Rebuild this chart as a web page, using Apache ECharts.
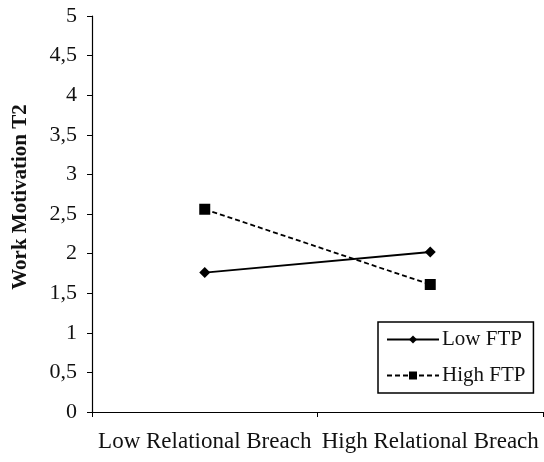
<!DOCTYPE html>
<html>
<head>
<meta charset="utf-8">
<script src="https://cdn.jsdelivr.net/npm/echarts@6/dist/echarts.min.js"></script>
<style>
  html, body { margin: 0; padding: 0; background: #fff; }
  #chart { width: 544px; height: 462px; }
</style>
</head>
<body>
<div id="chart"></div>
<script>
const categories = ['Low Relational Breach', 'High Relational Breach']
const lowFtp = [1.76, 2.02]
const highFtp = [2.56, 1.61]
const yTicks = ['0', '0,5', '1', '1,5', '2', '2,5', '3', '3,5', '4', '4,5', '5']

const font = "'Liberation Serif', 'DejaVu Serif', serif"

const chart = echarts.init(document.getElementById('chart'))
chart.setOption({
  animation: false,
  backgroundColor: '#fff',
  grid: { left: 92, right: 1, top: 16, bottom: 50, outerBoundsMode: 'none', containLabel: false },
  legend: {
    orient: 'vertical',
    left: 378,
    top: 322,
    padding: [7, 8, 7, 8],
    itemGap: 15,
    itemWidth: 52,
    itemHeight: 10,
    borderColor: '#000',
    borderWidth: 1.5,
    borderRadius: 0,
    textStyle: { fontFamily: font, fontSize: 21, color: '#111', padding: [0, 0, 0, -2] },
    data: ['Low FTP', 'High FTP']
  },
  xAxis: {
    type: 'category',
    data: categories,
    boundaryGap: true,
    axisLine: { lineStyle: { color: '#000', width: 1.2 } },
    axisTick: { show: true, length: 5, lineStyle: { color: '#000' } },
    axisLabel: { fontFamily: font, fontSize: 23, color: '#111', margin: 18, interval: 0, hideOverlap: false }
  },
  yAxis: {
    type: 'value',
    min: 0,
    max: 5,
    interval: 0.5,
    name: 'Work Motivation T2',
    nameLocation: 'middle',
    nameGap: 61,
    nameTextStyle: {
      fontFamily: font, fontSize: 21, fontWeight: 'bold', color: '#111',
      padding: [0, 0, 0, 34]
    },
    axisLine: { show: true, lineStyle: { color: '#000', width: 1.2 } },
    axisTick: { show: true, length: 5, lineStyle: { color: '#000' } },
    splitLine: { show: false },
    axisLabel: {
      fontFamily: font, fontSize: 22, color: '#111', margin: 15,
      formatter: v => yTicks[Math.round(v * 2)]
    }
  },
  series: [
    {
      name: 'Low FTP',
      type: 'line',
      data: lowFtp,
      symbol: 'diamond',
      symbolSize: 11,
      itemStyle: { color: '#000' },
      lineStyle: { color: '#000', width: 1.8, type: 'solid' }
    },
    {
      name: 'High FTP',
      type: 'line',
      data: highFtp,
      symbol: 'rect',
      symbolSize: 11,
      itemStyle: { color: '#000' },
      lineStyle: { color: '#000', width: 1.8, type: [5, 3] }
    }
  ]
})
</script>
</body>
</html>
